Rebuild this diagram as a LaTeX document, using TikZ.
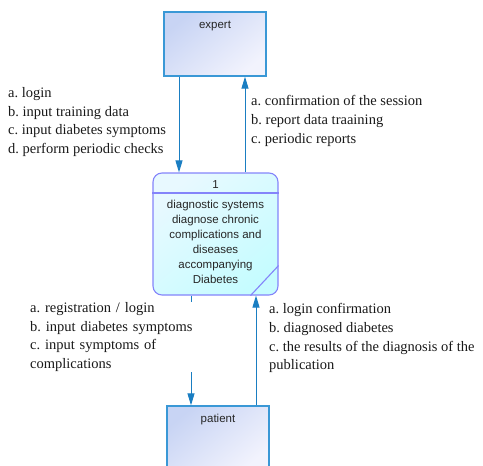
\documentclass[tikz,border=0pt]{standalone}
\usepackage{fontspec}
\setmainfont{Liberation Serif}
\newfontfamily\arialf{Liberation Sans}
\usetikzlibrary{arrows.meta}
\definecolor{edgeblue}{HTML}{3A98D6}
\definecolor{boxtop}{HTML}{C8D4F4}
\definecolor{boxbot}{HTML}{F2F3FD}
\definecolor{proctop}{HTML}{E8F9FF}
\definecolor{procbot}{HTML}{C6FCFF}
\definecolor{procedge}{HTML}{8484FA}
\definecolor{flowblue}{HTML}{1A7EC2}
\frenchspacing
\begin{document}
\begin{tikzpicture}[x=1pt,y=1pt,
  extbox/.style={draw=edgeblue, line width=1.3pt, minimum width=102pt, minimum height=64pt, inner sep=0,
    top color=boxtop, bottom color=boxbot, shading angle=40},
  procbox/.style={draw=procedge, line width=1.1pt, rounded corners=9pt, minimum width=125pt, minimum height=122pt, inner sep=0,
    top color=proctop, bottom color=procbot, shading angle=40},
  procline/.style={draw=procedge, line width=1.1pt},
  boxtext/.style={font=\arialf\fontsize{11.5}{15}\selectfont, inner sep=0, text=black!85},
  flow/.style={draw=flowblue, line width=1pt, -{Triangle[length=12pt,width=7pt]}},
  lbl/.style={font=\fontsize{14.5}{18.8}\selectfont, align=left, inner sep=0, anchor=north west, text=black!90}]
\useasboundingbox (0,0) rectangle (483,-466);
% boxes
\node[extbox] (expert) at (215,-44) {};
\node[boxtext, anchor=base] (expertlbl) at (215,-28) {expert};
\node[procbox] (proc) at (215.5,-234) {};
\coordinate (hdr) at (0,-193);
\draw[procline] (proc.west |- hdr) -- (proc.east |- hdr);
\draw[procline] ([yshift=30]proc.south east) -- ([xshift=-28]proc.south east);
\node[boxtext, anchor=base] (pnum) at (215.5,-188) {1};
\node[boxtext, align=center, anchor=north] (pbody) at (215.5,-199.5)
  {diagnostic systems\\diagnose chronic\\complications and\\diseases\\accompanying\\Diabetes};
\node[extbox] (patient) at (218,-438) {};
\node[boxtext, anchor=base] (patientlbl) at (218,-422) {patient};
% connectors
\coordinate (c1) at (179,0);
\coordinate (c2) at (245,0);
\coordinate (c3) at (191,0);
\coordinate (c4) at (256,0);
\draw[flow] (expert.south -| c1) -- (proc.north -| c1);
\draw[flow] (proc.north -| c2) -- (expert.south -| c2);
\draw[flow] (proc.south -| c3) -- (patient.north -| c3);
\draw[flow] (patient.north -| c4) -- (proc.south -| c4);
% labels
\node[lbl] (l1) at (8,-87) {a. login\\b. input training data\\c. input diabetes symptoms\\d. perform periodic checks};
\node[lbl] (l2) at (251,-95) {a. confirmation of the session\\b. report data traaining\\c. periodic reports};
\node[lbl, fill=white, text width=166pt] (l3) at (30,-302) {a. registration / login\\b. input diabetes symptoms\\c. input symptoms of\\complications};
\node[lbl] (l4) at (269,-303) {a. login confirmation\\b. diagnosed diabetes\\c. the results of the diagnosis of the\\publication};
\end{tikzpicture}
\end{document}
